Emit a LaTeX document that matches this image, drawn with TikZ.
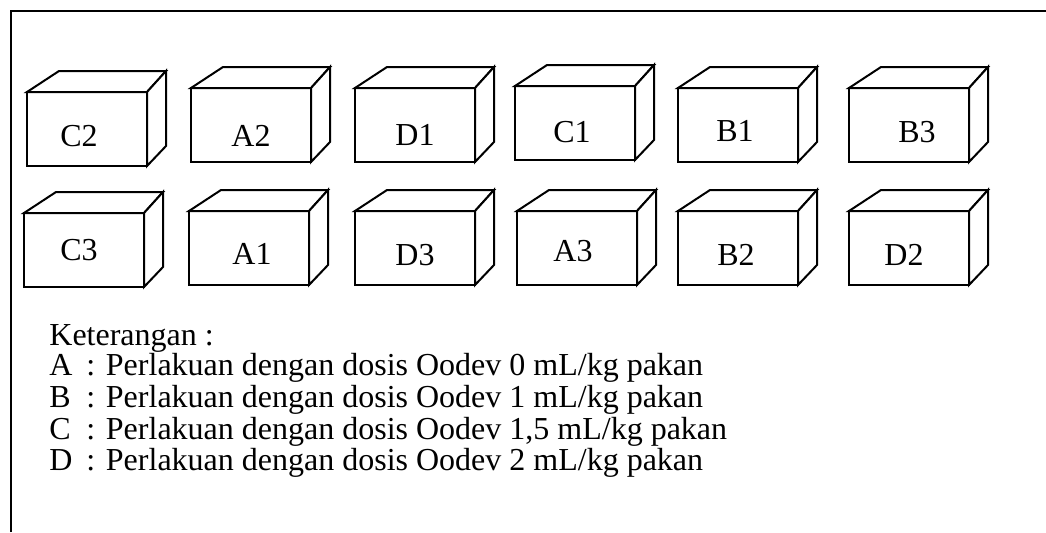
\documentclass[tikz,border=0pt]{standalone}
\usepackage{fontspec}
\setmainfont{Liberation Serif}
\tikzstyle{kotak} = [draw=black, line width=1pt, fill=white]
\tikzstyle{teks} = [anchor=base west, inner sep=0pt, font=\fontsize{16}{19}\selectfont]
% #1 nama, #2/#3 sudut kiri atas depan, #4/#5 posisi teks
\newcommand{\kotak}[5]{%
	\begin{scope}[shift={(#2,#3)}]
		\draw[kotak] (0,0) rectangle (120,74);
		\draw[kotak] (0,0) -- (32,-21) -- (139,-21) -- (120,0) -- cycle;
		\draw[kotak] (120,0) -- (139,-21) -- (139,54) -- (120,74) -- cycle;
	\end{scope}
	\node [teks] (#1) at (#4,#5) {#1};}

\begin{document}
\begin{tikzpicture}[x=0.5pt, y=-0.5pt]%
			\useasboundingbox (0,0) rectangle (1046,532);%
			\draw[line width=1pt] (11,532) -- (11,11) -- (1046,11);%
			% baris atas
			\kotak{C2}{27}{92}{60}{146}%
			\kotak{A2}{191}{88}{231}{146}%
			\kotak{D1}{355}{88}{395}{145}%
			\kotak{C1}{515}{86}{553}{142}%
			\kotak{B1}{678}{88}{716}{141}%
			\kotak{B3}{849}{88}{898}{142}%
			% baris bawah
			\kotak{C3}{24}{213}{60}{260}%
			\kotak{A1}{189}{211}{232}{264}%
			\kotak{D3}{355}{211}{395}{265}%
			\kotak{A3}{517}{211}{553}{261}%
			\kotak{B2}{678}{211}{717}{265}%
			\kotak{D2}{849}{211}{884}{265}%
			% keterangan
			\node [teks] (ket) at (49,345) {Keterangan :};%
			\foreach \h/\dosis/\yy in {A/0/375, B/1/407, C/{1,5}/439, D/2/470} {%
				\node [teks] (huruf\h) at (49,\yy) {\h};
				\node [teks] (ket\h) at (86,\yy) {: Perlakuan dengan dosis Oodev \dosis\ mL/kg pakan};
			}%
		\end{tikzpicture}
\end{document}
